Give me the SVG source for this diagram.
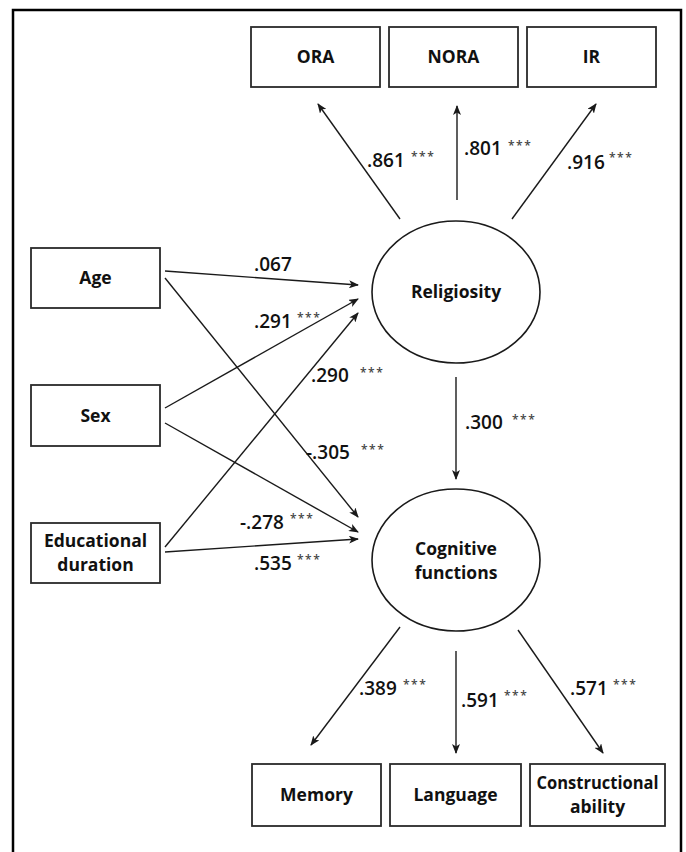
<svg xmlns="http://www.w3.org/2000/svg" width="686" height="852" viewBox="0 0 686 852">
<style>
.box{fill:#fff;stroke:#2a2a2a;stroke-width:1.8}
.ell{fill:#fff;stroke:#1a1a1a;stroke-width:1.6}
.nt{font-family:"Open Sans","Noto Sans",sans-serif;font-weight:700;font-size:17.5px;fill:#111;text-anchor:middle}
.lb{font-family:"Open Sans","Noto Sans",sans-serif;font-weight:600;font-size:19px;fill:#111}
.st{font-family:"Open Sans","Noto Sans",sans-serif;font-weight:600;font-size:12px;fill:#444;letter-spacing:1.5px}
.cn line{stroke:#1a1a1a;stroke-width:1.4;marker-end:url(#ah)}
</style>
<defs>
<marker id="ah" viewBox="0 0 10 8" refX="9" refY="4" markerWidth="10" markerHeight="8" markerUnits="userSpaceOnUse" orient="auto">
<path d="M0,0 L10,4 L0,8 L2.5,4 z" fill="#1a1a1a"/>
</marker>
</defs>
<rect x="0" y="0" width="686" height="852" fill="#fff"/>
<rect x="13" y="10" width="668" height="860" fill="none" stroke="#000" stroke-width="2.5"/>

<g id="node-ora"><rect class="box" x="251" y="27" width="129" height="60"/><text class="nt" x="315.5" y="63">ORA</text></g>
<g id="node-nora"><rect class="box" x="389" y="27" width="129" height="60"/><text class="nt" x="453.5" y="63">NORA</text></g>
<g id="node-ir"><rect class="box" x="527" y="27" width="129" height="60"/><text class="nt" x="591.5" y="63">IR</text></g>

<g id="node-age"><rect class="box" x="31" y="248" width="129" height="60"/><text class="nt" x="95.5" y="284">Age</text></g>
<g id="node-sex"><rect class="box" x="31" y="385" width="129" height="61"/><text class="nt" x="95.5" y="422">Sex</text></g>
<g id="node-edu"><rect class="box" x="31" y="523" width="129" height="60"/><text class="nt" x="95.5" y="547"><tspan x="95.5" y="547">Educational</tspan><tspan x="95.5" y="571">duration</tspan></text></g>

<g id="node-religiosity"><ellipse class="ell" cx="456" cy="292" rx="84" ry="71"/><text class="nt" x="456" y="298">Religiosity</text></g>
<g id="node-cognitive"><ellipse class="ell" cx="456" cy="560" rx="84" ry="71"/><text class="nt" x="456" y="555"><tspan x="456" y="555">Cognitive</tspan><tspan x="456" y="579">functions</tspan></text></g>

<g id="node-memory"><rect class="box" x="252" y="764" width="129" height="62"/><text class="nt" x="316.5" y="801">Memory</text></g>
<g id="node-language"><rect class="box" x="390" y="764" width="131" height="62"/><text class="nt" x="455.5" y="801">Language</text></g>
<g id="node-constructional"><rect class="box" x="530" y="764" width="135" height="62"/><text class="nt" x="597.5" y="789"><tspan x="597.5" y="789" textLength="122" lengthAdjust="spacingAndGlyphs">Constructional</tspan><tspan x="597.5" y="813">ability</tspan></text></g>

<g id="connectors" class="cn">
<line x1="400" y1="219" x2="318" y2="104"/>
<line x1="457" y1="200" x2="457" y2="106"/>
<line x1="512" y1="219" x2="596" y2="104"/>
<line x1="165" y1="271" x2="358" y2="285"/>
<line x1="165" y1="278" x2="358" y2="517"/>
<line x1="165" y1="408" x2="358" y2="299"/>
<line x1="165" y1="423" x2="358" y2="532"/>
<line x1="165" y1="547" x2="358" y2="313"/>
<line x1="165" y1="552" x2="358" y2="539"/>
<line x1="456" y1="377" x2="456" y2="479"/>
<line x1="400" y1="627" x2="311" y2="745"/>
<line x1="456" y1="651" x2="456" y2="753"/>
<line x1="518" y1="630" x2="603" y2="753"/>
</g>

<g id="labels">
<text class="lb" x="367" y="167">.861</text><text class="st" x="411" y="161">***</text>
<text class="lb" x="464" y="155">.801</text><text class="st" x="508" y="150">***</text>
<text class="lb" x="567" y="169">.916</text><text class="st" x="609" y="162">***</text>
<text class="lb" x="254" y="271">.067</text>
<text class="lb" x="254" y="328">.291</text><text class="st" x="297" y="322">***</text>
<text class="lb" x="311" y="382">.290</text><text class="st" x="360" y="377">***</text>
<text class="lb" x="306" y="459">-.305</text><text class="st" x="361" y="454">***</text>
<text class="lb" x="240" y="529">-.278</text><text class="st" x="290" y="523">***</text>
<text class="lb" x="254" y="570">.535</text><text class="st" x="297" y="564">***</text>
<text class="lb" x="465" y="429">.300</text><text class="st" x="512" y="424">***</text>
<text class="lb" x="359" y="695">.389</text><text class="st" x="403" y="689">***</text>
<text class="lb" x="461" y="707">.591</text><text class="st" x="504" y="700">***</text>
<text class="lb" x="570" y="695">.571</text><text class="st" x="613" y="689">***</text>
</g>
</svg>
